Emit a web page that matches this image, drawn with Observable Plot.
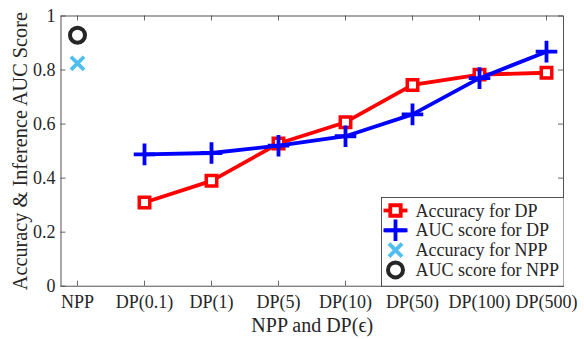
<!DOCTYPE html>
<html><head><meta charset="utf-8">
<script src="https://cdn.jsdelivr.net/npm/d3@7"></script>
<script src="https://cdn.jsdelivr.net/npm/@observablehq/plot@0.6"></script>
<style>
body{margin:0;background:#fff}
#wrap{position:relative;width:584px;height:339px}
#wrap svg{position:absolute;left:0;top:0}
</style>
</head><body><div id="wrap"></div>
<script>
const categories = ["NPP","DP(0.1)","DP(1)","DP(5)","DP(10)","DP(50)","DP(100)","DP(500)"];
const dpCategories = ["DP(0.1)","DP(1)","DP(5)","DP(10)","DP(50)","DP(100)","DP(500)"];
const accuracyDP = [0.31,0.39,0.528,0.607,0.745,0.783,0.79];
const aucDP = [0.488,0.493,0.52,0.555,0.636,0.77,0.868];
const nppCategory = ["NPP"];
const accuracyNPP = [0.825];
const aucNPP = [0.929];
const yTicks = [0,0.2,0.4,0.6,0.8,1];
const yTickLabels = ["0","0.2","0.4","0.6","0.8","1"];
const seriesNames = ["Accuracy for DP","AUC score for DP","Accuracy for NPP","AUC score for NPP"];
const seriesColors = ["#ff0000","#0000ff","#4dbeee","#262626"];
const yLabel = "Accuracy & Inference AUC Score";
const xLabel = "NPP and DP(\u03f5)";

const accRows = dpCategories.map((c,i)=>({cat:c, v:accuracyDP[i]}));
const aucRows = dpCategories.map((c,i)=>({cat:c, v:aucDP[i]}));
const accNppRows = nppCategory.map((c,i)=>({cat:c, v:accuracyNPP[i]}));
const aucNppRows = nppCategory.map((c,i)=>({cat:c, v:aucNPP[i]}));

const W=584,H=339,mL=60.5,mR=21,mT=15.5,mB=53.3;
const pw=W-mL-mR, ph=H-mT-mB;
const axisColor="#404040";

const chart = Plot.plot({
  width:W, height:H, marginLeft:mL, marginRight:mR, marginTop:mT, marginBottom:mB,
  style:{fontFamily:"'Liberation Serif', serif", fontSize:"18px", color:"#262626", background:"transparent"},
  x:{type:"point", domain:categories, padding:0.2, label:null},
  y:{domain:[0,1], label:null},
  marks:[
    Plot.axisX({tickSize:0, tickPadding:9.5, fontSize:18, letterSpacing:"0.9px"}),
    Plot.axisY({ticks:yTicks, tickFormat:d=>yTickLabels[yTicks.indexOf(d)], tickSize:0, tickPadding:5.5, fontSize:18}),
    Plot.tickX(categories,{x:d=>d, insetTop:ph-5, stroke:axisColor, strokeWidth:0.8}),
    Plot.tickX(categories,{x:d=>d, insetBottom:ph-5, stroke:axisColor, strokeWidth:0.8}),
    Plot.tickY(yTicks,{y:d=>d, insetRight:pw-5, stroke:axisColor, strokeWidth:0.8}),
    Plot.tickY(yTicks,{y:d=>d, insetLeft:pw-5, stroke:axisColor, strokeWidth:0.8}),
    Plot.frame({stroke:axisColor, strokeWidth:0.9}),
    Plot.line(accRows,{x:"cat", y:"v", stroke:seriesColors[0], strokeWidth:3.8}),
    Plot.dot(accRows,{x:"cat", y:"v", symbol:"square", r:5.9, stroke:seriesColors[0], strokeWidth:3.5, fill:"white"}),
    Plot.line(aucRows,{x:"cat", y:"v", stroke:seriesColors[1], strokeWidth:3.8}),
    Plot.dot(aucRows,{x:"cat", y:"v", symbol:"plus", r:7, stroke:seriesColors[1], strokeWidth:3.8}),
    Plot.dot(accNppRows,{x:"cat", y:"v", symbol:"times", r:6, stroke:seriesColors[2], strokeWidth:3.8}),
    Plot.dot(aucNppRows,{x:"cat", y:"v", symbol:"circle", r:7.5, stroke:seriesColors[3], strokeWidth:4, fill:"none"}),
    Plot.text([yLabel],{frameAnchor:"left", textAnchor:"middle", lineAnchor:"middle", dx:-40.2, rotate:-90, fontSize:20.3}),
    Plot.text([xLabel],{frameAnchor:"bottom", textAnchor:"middle", lineAnchor:"middle", dy:39.6, fontSize:20})
  ]
});
const wrap = document.getElementById("wrap");
wrap.appendChild(chart);

// Legend
const lx=380.5, ly=197, lw=182.5, lh=88.7;
const leg = d3.select(wrap).append("svg")
  .attr("width",lw+1).attr("height",lh+1)
  .style("left",lx+"px").style("top",ly+"px");
leg.append("rect").attr("x",0.5).attr("y",0.5).attr("width",lw).attr("height",lh)
  .attr("fill","white").attr("stroke",axisColor).attr("stroke-width",0.9);
const symbols=[d3.symbolSquare,d3.symbolPlus,d3.symbolTimes,d3.symbolCircle];
const radii=[5.9,7,6,7.5];
seriesNames.forEach((name,i)=>{
  const cy=13.5+i*19.8;
  const g=leg.append("g");
  if(i<2) g.append("line").attr("x1",2.5).attr("x2",26.5).attr("y1",cy).attr("y2",cy)
    .attr("stroke",seriesColors[i]).attr("stroke-width",3.8);
  g.append("path").attr("d",d3.symbol(symbols[i], Math.PI*radii[i]*radii[i])())
    .attr("transform",`translate(14.5,${cy})`)
    .attr("fill",i===0?"white":"none").attr("stroke",seriesColors[i]).attr("stroke-width",i===3?4:3.8);
  g.append("text").attr("x",34.5).attr("y",cy+6)
    .attr("font-family","'Liberation Serif', serif").attr("font-size",18).attr("fill","#262626")
    .text(name);
});
</script>
</body></html>
